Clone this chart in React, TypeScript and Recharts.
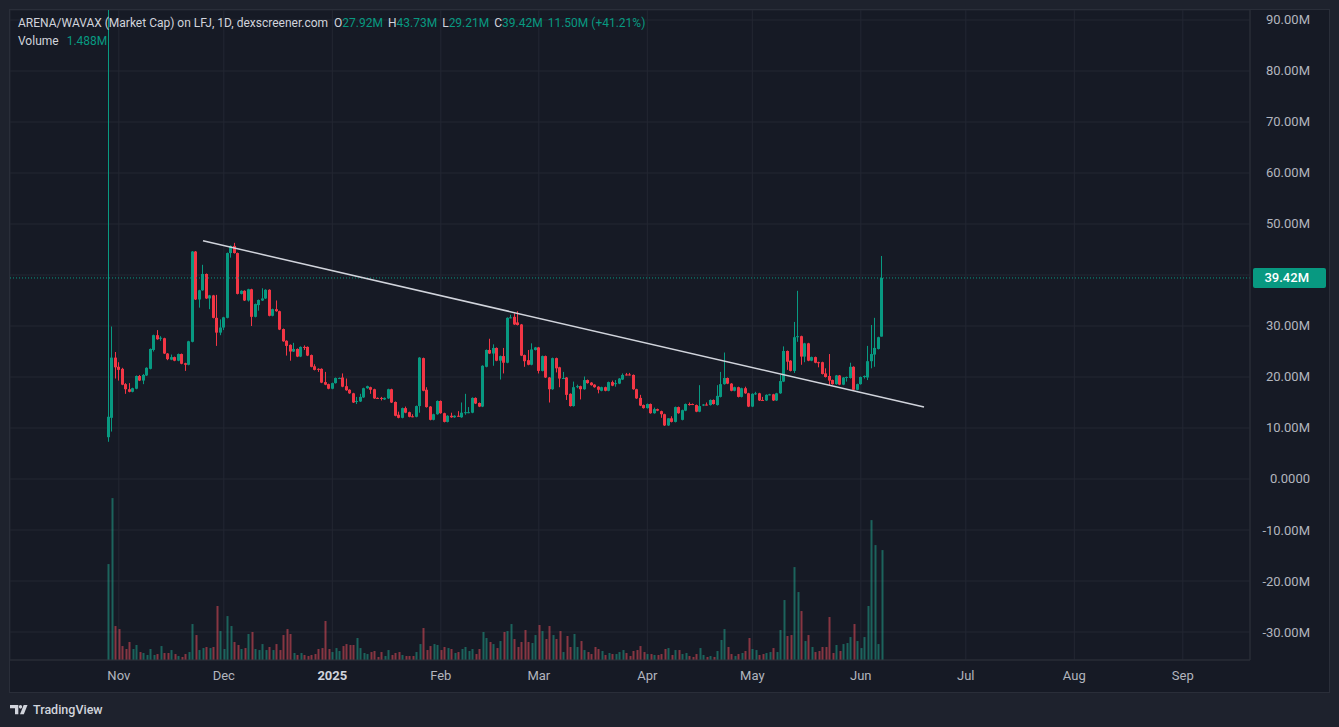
import React from "react";
import { ComposedChart, Bar, XAxis, YAxis, CartesianGrid, ReferenceLine } from "recharts";

const UP = "#089981";
const DOWN = "#f23645";
const VOL_UP = "rgba(34,171,148,0.5)";
const VOL_DOWN = "rgba(247,82,95,0.5)";
const TEXT = "#b2b5be";
const GRID = "#232732";
const BORDER = "#2a2e39";
const PANE = "#161a25";
const OUTER = "#1e222d";
const FONT = "Roboto, 'Noto Sans', sans-serif";

// daily candles, day 0 = 2024-10-29 : [open, high, low, close] in M
const ohlc: [number, number, number, number][] = [
  [8.2, 92.0, 7.3, 12.2], [12.0, 29.9, 9.3, 23.8], [23.8, 24.9, 19.7, 21.9], [22.0, 22.9, 19.3, 21.4], [21.6, 21.8, 18.4, 18.5],
  [18.6, 18.8, 16.7, 17.6], [17.6, 18.8, 17.0, 17.1], [17.1, 17.9, 17.0, 17.8], [17.7, 20.3, 17.6, 20.2], [20.2, 20.4, 19.2, 19.3],
  [19.3, 20.6, 18.6, 20.4], [20.3, 21.9, 20.2, 21.8], [21.6, 25.6, 21.5, 25.5], [25.3, 28.3, 25.0, 28.2], [28.2, 29.2, 27.3, 27.4],
  [27.5, 28.0, 27.1, 27.7], [27.6, 27.7, 24.5, 24.6], [24.6, 24.7, 23.3, 23.5], [23.4, 24.4, 23.3, 23.9], [23.9, 24.0, 23.1, 23.2],
  [23.2, 24.6, 23.1, 24.5], [24.5, 24.6, 22.5, 22.6], [22.7, 22.8, 21.2, 22.4], [22.4, 27.1, 22.3, 27.0], [26.9, 44.7, 26.8, 44.6],
  [44.6, 44.7, 35.1, 35.2], [35.2, 37.1, 33.6, 37.0], [37.0, 42.0, 36.9, 40.2], [40.2, 40.3, 35.3, 35.4], [35.4, 36.1, 33.3, 36.0],
  [36.0, 36.1, 31.5, 31.6], [31.6, 36.1, 26.1, 28.7], [28.7, 31.3, 28.2, 29.7], [29.7, 31.8, 29.2, 31.7], [31.6, 44.4, 31.5, 44.3],
  [44.3, 45.8, 43.4, 45.7], [45.7, 46.3, 44.2, 44.3], [44.3, 44.4, 36.2, 36.3], [36.3, 37.0, 36.2, 36.9], [36.9, 37.0, 34.9, 35.0],
  [35.0, 37.3, 34.8, 37.2], [37.2, 37.3, 30.0, 31.8], [31.8, 34.4, 31.7, 34.3], [34.1, 35.2, 33.0, 35.1], [35.0, 37.4, 34.9, 35.4],
  [35.4, 37.2, 35.3, 37.1], [37.1, 37.2, 31.9, 32.0], [32.0, 33.4, 31.9, 33.3], [33.3, 35.0, 32.8, 32.9], [32.9, 33.0, 29.2, 29.3],
  [29.4, 29.5, 26.9, 27.0], [27.1, 27.2, 24.2, 26.1], [26.3, 26.4, 23.2, 25.0], [25.0, 26.7, 24.9, 25.5], [25.5, 25.6, 23.9, 24.0],
  [24.0, 26.0, 23.9, 25.9], [25.9, 26.2, 25.3, 25.7], [25.9, 26.0, 24.1, 24.2], [24.3, 24.4, 21.9, 22.0], [22.1, 22.5, 21.3, 21.4],
  [21.6, 21.7, 21.0, 21.4], [21.6, 21.7, 18.8, 18.9], [19.0, 21.0, 18.4, 18.5], [18.6, 18.7, 17.6, 17.7], [17.7, 18.9, 17.6, 18.8],
  [18.8, 19.9, 18.7, 19.8], [19.7, 19.9, 19.6, 19.8], [19.9, 20.7, 18.0, 18.1], [18.2, 19.7, 17.3, 17.4], [17.5, 17.6, 16.7, 16.8],
  [16.8, 16.9, 14.9, 15.0], [15.2, 16.1, 14.7, 15.3], [15.2, 16.7, 15.1, 16.1], [16.0, 17.9, 15.9, 17.8], [17.8, 18.3, 17.7, 18.2],
  [18.0, 18.1, 16.7, 17.5], [17.6, 17.7, 15.7, 15.8], [15.9, 16.0, 15.7, 15.8], [15.9, 16.1, 15.4, 15.8], [15.6, 16.0, 15.5, 15.9],
  [15.8, 17.7, 15.7, 17.6], [17.6, 17.7, 14.9, 15.0], [15.1, 15.2, 12.3, 12.4], [12.6, 13.2, 11.9, 12.0], [12.0, 14.0, 11.9, 13.9],
  [13.9, 14.2, 12.9, 13.0], [13.1, 13.2, 12.1, 12.2], [12.3, 12.7, 12.1, 12.2], [12.2, 14.4, 12.1, 14.3], [14.3, 23.9, 13.0, 23.8],
  [23.7, 23.8, 17.2, 17.3], [17.5, 18.0, 14.0, 14.1], [14.2, 14.3, 11.5, 11.6], [11.6, 12.8, 11.5, 12.7], [12.7, 15.4, 12.6, 15.3],
  [15.3, 15.4, 12.8, 12.9], [12.9, 13.0, 11.1, 11.2], [11.2, 12.5, 11.1, 12.4], [12.4, 13.0, 12.0, 12.1], [12.1, 12.5, 12.0, 12.4],
  [12.4, 13.3, 12.2, 12.3], [12.1, 15.0, 12.0, 13.0], [13.0, 16.7, 12.6, 13.1], [13.0, 14.1, 12.9, 13.1], [13.0, 16.0, 12.9, 15.9],
  [15.9, 16.0, 14.7, 14.8], [14.9, 15.0, 14.1, 14.2], [14.2, 22.3, 14.1, 22.2], [22.0, 25.4, 21.9, 25.3], [25.3, 27.5, 24.5, 24.6],
  [24.6, 26.4, 22.2, 25.7], [25.7, 25.8, 23.1, 23.2], [23.2, 24.2, 19.5, 24.1], [24.1, 25.7, 20.7, 22.8], [22.8, 31.7, 22.7, 31.6],
  [31.6, 32.2, 31.5, 31.7], [31.8, 32.5, 30.2, 30.3], [30.7, 32.9, 30.1, 30.2], [30.3, 30.4, 24.1, 24.2], [24.3, 24.4, 22.0, 23.1],
  [23.3, 25.3, 22.3, 22.4], [22.4, 26.6, 22.3, 25.4], [25.3, 25.9, 25.2, 25.8], [25.8, 25.9, 20.7, 21.2], [21.2, 24.2, 21.1, 24.1],
  [24.1, 24.2, 19.8, 19.9], [19.9, 20.0, 15.0, 17.6], [17.6, 23.8, 17.5, 23.7], [23.7, 23.8, 20.9, 21.7], [21.9, 22.0, 18.0, 19.7],
  [19.7, 21.0, 19.6, 19.8], [19.9, 20.0, 15.5, 16.5], [16.7, 16.8, 14.2, 14.3], [14.3, 19.1, 14.2, 18.0], [18.0, 18.5, 17.8, 18.2],
  [18.2, 18.3, 15.6, 17.6], [17.6, 20.1, 17.5, 19.4], [19.4, 19.5, 18.7, 18.8], [18.9, 19.0, 18.3, 18.4], [18.5, 18.6, 17.9, 18.0],
  [18.1, 18.2, 16.8, 17.5], [17.3, 18.1, 17.2, 18.0], [18.0, 18.1, 17.2, 17.3], [17.3, 19.1, 17.2, 19.0], [19.0, 19.3, 18.2, 18.3],
  [18.6, 19.4, 18.1, 18.8], [18.7, 19.8, 18.6, 19.7], [19.5, 20.7, 19.4, 20.4], [20.5, 20.8, 20.3, 20.4], [20.5, 20.8, 20.3, 20.4],
  [20.4, 20.5, 17.5, 17.6], [17.6, 17.7, 15.7, 15.8], [15.9, 16.5, 14.3, 14.4], [14.5, 14.6, 13.8, 13.9], [13.9, 14.8, 13.8, 14.7],
  [14.7, 14.8, 12.8, 12.9], [12.9, 14.0, 12.8, 13.7], [13.7, 13.8, 13.3, 13.4], [13.3, 13.4, 12.0, 12.7], [12.7, 12.8, 10.4, 10.5],
  [10.5, 11.9, 10.4, 11.9], [11.9, 12.3, 11.1, 11.2], [11.2, 14.2, 11.1, 14.1], [14.1, 14.2, 12.8, 12.9], [11.6, 13.6, 11.5, 13.5],
  [13.4, 14.8, 13.3, 14.7], [14.7, 15.0, 14.4, 14.5], [14.7, 14.8, 14.5, 14.6], [14.5, 14.6, 13.1, 13.2], [13.2, 18.4, 13.1, 14.3],
  [14.4, 14.7, 14.3, 14.6], [14.6, 15.0, 14.4, 14.5], [14.5, 15.6, 14.4, 15.5], [15.5, 15.6, 14.6, 14.7], [14.5, 18.4, 14.4, 16.3],
  [16.1, 21.0, 16.0, 18.6], [18.6, 24.8, 18.5, 19.8], [19.8, 19.9, 18.6, 18.7], [18.7, 18.8, 17.2, 17.3], [17.3, 18.1, 17.2, 18.0],
  [18.0, 18.1, 16.0, 16.1], [16.1, 17.9, 16.0, 17.8], [17.8, 18.1, 16.7, 16.8], [16.8, 16.9, 14.1, 14.2], [14.2, 16.8, 14.1, 16.7],
  [16.7, 17.1, 16.5, 16.8], [16.8, 16.9, 15.3, 15.4], [15.5, 16.1, 15.3, 15.4], [15.4, 16.6, 15.3, 16.5], [16.5, 16.7, 16.4, 16.6],
  [16.6, 16.7, 15.3, 15.4], [15.4, 16.9, 15.3, 16.8], [16.8, 20.4, 16.7, 19.2], [19.1, 26.0, 19.0, 25.1], [25.1, 25.2, 21.4, 23.0],
  [23.2, 23.3, 21.1, 21.2], [21.2, 30.8, 20.8, 27.8], [27.8, 36.9, 26.9, 28.0], [28.0, 28.1, 22.4, 24.0], [24.0, 26.7, 22.9, 26.6],
  [26.6, 26.7, 23.1, 23.2], [23.2, 24.0, 23.1, 23.9], [23.9, 24.0, 22.7, 22.8], [22.9, 23.0, 21.9, 22.8], [22.9, 23.0, 20.5, 20.6],
  [20.7, 21.7, 19.9, 20.0], [20.2, 24.5, 18.4, 19.3], [19.4, 19.5, 18.5, 18.6], [18.6, 20.4, 18.5, 20.3], [20.3, 20.4, 18.4, 18.5],
  [18.5, 20.0, 18.4, 19.9], [19.9, 20.1, 19.1, 20.0], [19.8, 22.8, 19.7, 22.0], [22.0, 22.1, 17.4, 17.5], [17.5, 18.7, 17.4, 18.6],
  [18.6, 20.1, 18.5, 20.0], [20.0, 20.3, 19.7, 20.2], [19.9, 26.1, 19.4, 23.1], [23.1, 30.2, 21.7, 24.5], [24.4, 31.6, 22.0, 25.7],
  [25.5, 27.9, 25.4, 27.8], [27.92, 43.73, 27.92, 39.42],
];

// daily volume in M
const volumes: number[] = [
  1.299, 2.192, 0.46, 0.419, 0.189, 0.149, 0.244, 0.149, 0.203, 0.108,
  0.095, 0.068, 0.149, 0.068, 0.081, 0.189, 0.095, 0.095, 0.135, 0.081,
  0.054, 0.041, 0.081, 0.108, 0.487, 0.338, 0.135, 0.162, 0.176, 0.162,
  0.176, 0.731, 0.392, 0.149, 0.595, 0.46, 0.244, 0.203, 0.149, 0.162,
  0.352, 0.379, 0.149, 0.135, 0.216, 0.135, 0.176, 0.135, 0.216, 0.135,
  0.338, 0.419, 0.352, 0.095, 0.068, 0.095, 0.068, 0.054, 0.068, 0.081,
  0.149, 0.162, 0.528, 0.149, 0.108, 0.162, 0.122, 0.189, 0.216, 0.203,
  0.203, 0.298, 0.162, 0.095, 0.081, 0.108, 0.122, 0.041, 0.108, 0.054,
  0.135, 0.068, 0.095, 0.108, 0.068, 0.054, 0.054, 0.054, 0.108, 0.216,
  0.433, 0.135, 0.189, 0.216, 0.203, 0.135, 0.176, 0.162, 0.149, 0.095,
  0.108, 0.149, 0.176, 0.122, 0.149, 0.081, 0.149, 0.379, 0.298, 0.244,
  0.216, 0.162, 0.257, 0.379, 0.392, 0.487, 0.284, 0.176, 0.244, 0.406,
  0.244, 0.23, 0.338, 0.474, 0.392, 0.284, 0.46, 0.338, 0.284, 0.392,
  0.108, 0.325, 0.176, 0.352, 0.176, 0.257, 0.135, 0.108, 0.081, 0.176,
  0.149, 0.122, 0.068, 0.095, 0.081, 0.081, 0.108, 0.135, 0.095, 0.054,
  0.122, 0.135, 0.189, 0.108, 0.081, 0.081, 0.068, 0.068, 0.081, 0.149,
  0.162, 0.068, 0.135, 0.135, 0.081, 0.095, 0.054, 0.041, 0.081, 0.162,
  0.068, 0.041, 0.054, 0.041, 0.122, 0.271, 0.419, 0.176, 0.081, 0.054,
  0.081, 0.095, 0.122, 0.298, 0.149, 0.135, 0.068, 0.081, 0.095, 0.108,
  0.162, 0.108, 0.406, 0.812, 0.325, 0.338, 1.258, 0.92, 0.663, 0.257,
  0.338, 0.176, 0.108, 0.122, 0.176, 0.176, 0.582, 0.095, 0.203, 0.122,
  0.216, 0.23, 0.311, 0.487, 0.257, 0.162, 0.311, 0.731, 1.894, 1.556,
  0.216, 1.488,
];

// month starts as day index (day 0 = 2024-10-29)
const monthTicks = [3, 33, 64, 95, 123, 154, 184, 215, 245, 276, 307];
const monthLabels = ["Nov", "Dec", "2025", "Feb", "Mar", "Apr", "May", "Jun", "Jul", "Aug", "Sep"];
const priceTicks = [90, 80, 70, 60, 50, 40, 30, 20, 10, 0, -10, -20, -30];
const xDomain: [number, number] = [-28.09, 326.2];
const priceDomain: [number, number] = [-35.49, 91.96];
const volumeDomain: [number, number] = [0, 8.8];
const lastClose = 39.42;
const trendStart = { x: 27.06, y: 46.7 };
const trendEnd = { x: 233.06, y: 14.1 };

const titleText = "ARENA/WAVAX (Market Cap) on LFJ, 1D, dexscreener.com";
const ohlcLabels = ["O", "H", "L", "C"];
const ohlcValues = ["27.92M", "43.73M", "29.21M", "39.42M"];
const changeText = "11.50M (+41.21%)";
const volumeLabel = "Volume";
const volumeValue = "1.488M";

const data = ohlc.map(([o, h, l, c], i) => ({
  day: i,
  o,
  h,
  l,
  c,
  range: [l, h] as [number, number],
  vol: volumes[i],
  up: c >= o,
}));

function CandleShape(props: any) {
  const { x, y, width, height, payload } = props;
  if (x == null || y == null || !payload) return null;
  const top = Math.min(y, y + height);
  const hgt = Math.abs(height);
  const { o, h, l, c } = payload;
  const color = c >= o ? UP : DOWN;
  const k = h > l ? hgt / (h - l) : 0;
  const cx = Math.floor(x + width / 2);
  const bTop = top + (h - Math.max(o, c)) * k;
  const bH = Math.max(1, Math.abs(c - o) * k);
  return (
    <g>
      <rect x={cx} y={top} width={1} height={hgt} fill={color} />
      <rect x={cx - 1} y={bTop} width={3} height={bH} fill={color} />
    </g>
  );
}

function VolumeShape(props: any) {
  const { x, y, width, height, payload } = props;
  if (x == null || y == null || !payload) return null;
  const cx = Math.floor(x + width / 2);
  const top = Math.min(y, y + height);
  return <rect x={cx - 0.5} y={top} width={2} height={Math.abs(height)} fill={payload.up ? VOL_UP : VOL_DOWN} />;
}

function PriceTick(props: any) {
  const { x, y, payload } = props;
  const v = payload.value as number;
  if (Math.abs(v - lastClose) < 2.5) return null;
  const label = v === 0 ? "0.0000" : `${v.toFixed(2)}M`;
  return (
    <text x={x + 52} y={y + 4.5} textAnchor="end" fill={TEXT} fontSize={13} fontFamily={FONT}>
      {label}
    </text>
  );
}

function TimeTick(props: any) {
  const { x, y, payload } = props;
  const idx = monthTicks.indexOf(payload.value);
  const label = monthLabels[idx] ?? "";
  const isYear = /^\d{4}$/.test(label);
  return (
    <text
      x={x}
      y={y + 12}
      textAnchor="middle"
      fill={isYear ? "#d1d4dc" : TEXT}
      fontWeight={isYear ? 700 : 400}
      fontSize={13}
      fontFamily={FONT}
    >
      {label}
    </text>
  );
}

function PriceTag(props: any) {
  const vb = props.viewBox || {};
  const { x = 0, y = 0, width = 0 } = vb;
  const left = x + width + 3;
  return (
    <g>
      <rect x={left} y={y - 10} width={73} height={20} rx={2} fill={UP} />
      <text x={left + 56} y={y + 4.5} textAnchor="end" fill="#ffffff" fontSize={13} fontWeight={500} fontFamily={FONT}>
        {lastClose.toFixed(2)}M
      </text>
    </g>
  );
}

function Logo() {
  return (
    <svg width={20} height={11} viewBox="0 0 24 12" preserveAspectRatio="none" style={{ display: "block" }}>
      <path d="M0 0 H10 V10 H6 V3.6 H0 Z" fill="#d1d4dc" />
      <circle cx={12.6} cy={2} r={2} fill="#d1d4dc" />
      <path d="M16.4 0 H21 L16.6 10 H12 Z" fill="#d1d4dc" />
    </svg>
  );
}

export default function App() {
  return (
    <div style={{ position: "relative", width: 1339, height: 727, background: OUTER, fontFamily: FONT, overflow: "hidden" }}>
      <style>{`body{margin:0;background:${OUTER};}`}</style>
      <div
        style={{
          position: "absolute",
          left: 10,
          top: 10,
          width: 1319,
          height: 682,
          background: PANE,
          boxShadow: `0 0 0 1px ${BORDER}`,
        }}
      >
        <ComposedChart width={1319} height={682} data={data} margin={{ top: 0, right: 0, bottom: 0, left: 0 }}>
          <CartesianGrid xAxisId="a" yAxisId="p" stroke={GRID} strokeWidth={1} />
          <XAxis
            xAxisId="a"
            dataKey="day"
            type="number"
            domain={xDomain}
            allowDataOverflow
            ticks={monthTicks}
            interval={0}
            tick={(p: any) => <TimeTick {...p} />}
            tickLine={false}
            axisLine={{ stroke: BORDER }}
            height={32}
          />
          <XAxis xAxisId="b" dataKey="day" type="number" domain={xDomain} allowDataOverflow hide />
          <YAxis
            yAxisId="p"
            orientation="right"
            domain={priceDomain}
            allowDataOverflow
            ticks={priceTicks}
            interval={0}
            tick={(p: any) => <PriceTick {...p} />}
            tickLine={false}
            axisLine={{ stroke: BORDER }}
            width={79}
          />
          <YAxis yAxisId="vol" domain={volumeDomain} allowDataOverflow hide />
          <Bar xAxisId="b" yAxisId="vol" dataKey="vol" barSize={2} shape={(p: any) => <VolumeShape {...p} />} isAnimationActive={false} />
          <Bar xAxisId="a" yAxisId="p" dataKey="range" barSize={3} shape={(p: any) => <CandleShape {...p} />} isAnimationActive={false} />
          <ReferenceLine xAxisId="a" yAxisId="p" y={lastClose} stroke={UP} strokeDasharray="1 2" label={(p: any) => <PriceTag {...p} />} />
          <ReferenceLine xAxisId="a" yAxisId="p" segment={[trendStart, trendEnd]} stroke="#d1d4dc" strokeWidth={1.5} />
        </ComposedChart>
      </div>

      <div
        style={{
          position: "absolute",
          left: 18,
          top: 15,
          fontSize: 12,
          lineHeight: "17.5px",
          color: "#d1d4dc",
          whiteSpace: "nowrap",
          pointerEvents: "none",
        }}
      >
        <div>
          <span>{titleText}</span>
          {ohlcLabels.map((lab, i) => (
            <span key={lab} style={{ marginLeft: i === 0 ? 6 : 5 }}>
              {lab}
              <span style={{ color: UP }}>{ohlcValues[i]}</span>
            </span>
          ))}
          <span style={{ marginLeft: 5, color: UP }}>{changeText}</span>
        </div>
        <div>
          <span>{volumeLabel}</span>
          <span style={{ marginLeft: 8, color: UP }}>{volumeValue}</span>
        </div>
      </div>

      <div style={{ position: "absolute", left: 10, top: 703, display: "flex", alignItems: "center", gap: 3 }}>
        <Logo />
        <span style={{ fontSize: 12.5, fontWeight: 500, color: "#d1d4dc", lineHeight: "14px" }}>TradingView</span>
      </div>
    </div>
  );
}
